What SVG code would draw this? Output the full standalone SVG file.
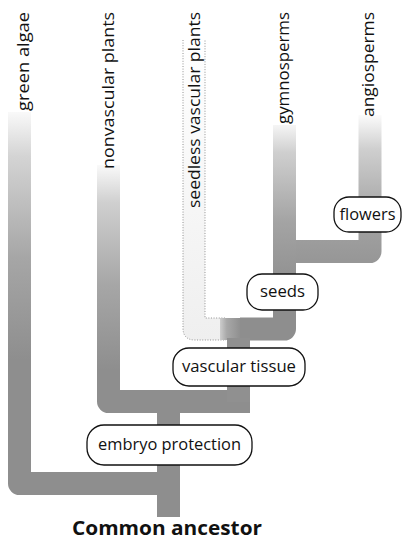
<svg xmlns="http://www.w3.org/2000/svg" width="405" height="541" viewBox="0 0 405 541">
<style>
.br{fill:none;stroke-width:23;stroke-linejoin:round;stroke-linecap:butt}
.box{fill:#fff;stroke:#111;stroke-width:1.3}
.lbl{font-family:"Open Sans","DejaVu Sans",sans-serif;font-size:17px;fill:#111;text-anchor:middle}
.tax{font-family:"Open Sans","DejaVu Sans",sans-serif;font-size:17px;fill:#111;text-anchor:end}
.root{font-family:"Open Sans","DejaVu Sans",sans-serif;font-size:19px;font-weight:bold;fill:#111;text-anchor:middle}
</style>
<defs>
<linearGradient id="gGreen" gradientUnits="userSpaceOnUse" x1="0" y1="105" x2="0" y2="360">
<stop offset="0" stop-color="#fff"/><stop offset="0.2" stop-color="#d4d4d4"/><stop offset="0.6" stop-color="#a6a6a6"/><stop offset="1" stop-color="#8e8e8e"/>
</linearGradient>
<linearGradient id="gNon" gradientUnits="userSpaceOnUse" x1="0" y1="160" x2="0" y2="370">
<stop offset="0" stop-color="#fff"/><stop offset="0.2" stop-color="#d0d0d0"/><stop offset="0.6" stop-color="#a6a6a6"/><stop offset="1" stop-color="#8e8e8e"/>
</linearGradient>
<linearGradient id="gGym" gradientUnits="userSpaceOnUse" x1="0" y1="118" x2="0" y2="290">
<stop offset="0" stop-color="#fff"/><stop offset="0.2" stop-color="#cfcfcf"/><stop offset="0.6" stop-color="#a4a4a4"/><stop offset="1" stop-color="#8e8e8e"/>
</linearGradient>
<linearGradient id="gAng" gradientUnits="userSpaceOnUse" x1="0" y1="112" x2="0" y2="260">
<stop offset="0" stop-color="#fff"/><stop offset="0.25" stop-color="#cfcfcf"/><stop offset="0.7" stop-color="#a4a4a4"/><stop offset="1" stop-color="#979797"/>
</linearGradient>
<linearGradient id="gSeedless" gradientUnits="userSpaceOnUse" x1="0" y1="40" x2="0" y2="340">
<stop offset="0" stop-color="#fff"/><stop offset="1" stop-color="#efefef"/>
</linearGradient>
<linearGradient id="gJoin" gradientUnits="userSpaceOnUse" x1="218" y1="0" x2="240" y2="0">
<stop offset="0" stop-color="#d8d8d8"/><stop offset="0.4" stop-color="#a8a8a8"/><stop offset="1" stop-color="#909090"/>
</linearGradient>
</defs>

<g id="connectors">
<path id="seedless-branch" d="M183,40 V328 Q183,340 195,340 H226 V318 H205 V40" fill="url(#gSeedless)" stroke="#777" stroke-width="0.8" stroke-dasharray="1 1.6"/>
<rect x="220" y="318" width="32" height="22" fill="url(#gJoin)"/>
<path d="M19.5,112 V483.5 H180" class="br" stroke="url(#gGreen)"/>
<path d="M108.5,165 V401.5 H250" class="br" stroke="url(#gNon)"/>
<path d="M370,115 V251.5 H284.5" class="br" stroke="url(#gAng)"/>
<path d="M284.5,125 V329 H240" class="br" stroke="url(#gGym)"/>
<rect x="227" y="338" width="23" height="64" fill="#909090"/>
<rect x="157" y="400" width="23" height="117" fill="#8e8e8e"/>
</g>

<g id="green-algae"><text class="tax" transform="translate(29,12) rotate(-90)" textLength="99" lengthAdjust="spacingAndGlyphs">green algae</text></g>
<g id="nonvascular-plants"><text class="tax" transform="translate(114,12) rotate(-90)" textLength="157" lengthAdjust="spacingAndGlyphs">nonvascular plants</text></g>
<g id="seedless-vascular-plants"><text class="tax" transform="translate(200,12) rotate(-90)" textLength="196" lengthAdjust="spacingAndGlyphs">seedless vascular plants</text></g>
<g id="gymnosperms"><text class="tax" transform="translate(289,12) rotate(-90)" textLength="112" lengthAdjust="spacingAndGlyphs">gymnosperms</text></g>
<g id="angiosperms"><text class="tax" transform="translate(374,12) rotate(-90)" textLength="105" lengthAdjust="spacingAndGlyphs">angiosperms</text></g>

<g id="flowers"><rect class="box" x="334" y="197" width="67" height="35" rx="15"/><text class="lbl" x="367.5" y="220" textLength="56" lengthAdjust="spacingAndGlyphs">flowers</text></g>
<g id="seeds"><rect class="box" x="247" y="274" width="71" height="36" rx="15"/><text class="lbl" x="282.5" y="297" textLength="45" lengthAdjust="spacingAndGlyphs">seeds</text></g>
<g id="vascular-tissue"><rect class="box" x="173" y="348" width="132" height="38" rx="16"/><text class="lbl" x="239" y="372" textLength="114" lengthAdjust="spacingAndGlyphs">vascular tissue</text></g>
<g id="embryo-protection"><rect class="box" x="87" y="425" width="165" height="40" rx="17"/><text class="lbl" x="169.5" y="450" textLength="143" lengthAdjust="spacingAndGlyphs">embryo protection</text></g>

<g id="common-ancestor"><text class="root" x="167" y="535" textLength="190" lengthAdjust="spacingAndGlyphs">Common ancestor</text></g>
</svg>
